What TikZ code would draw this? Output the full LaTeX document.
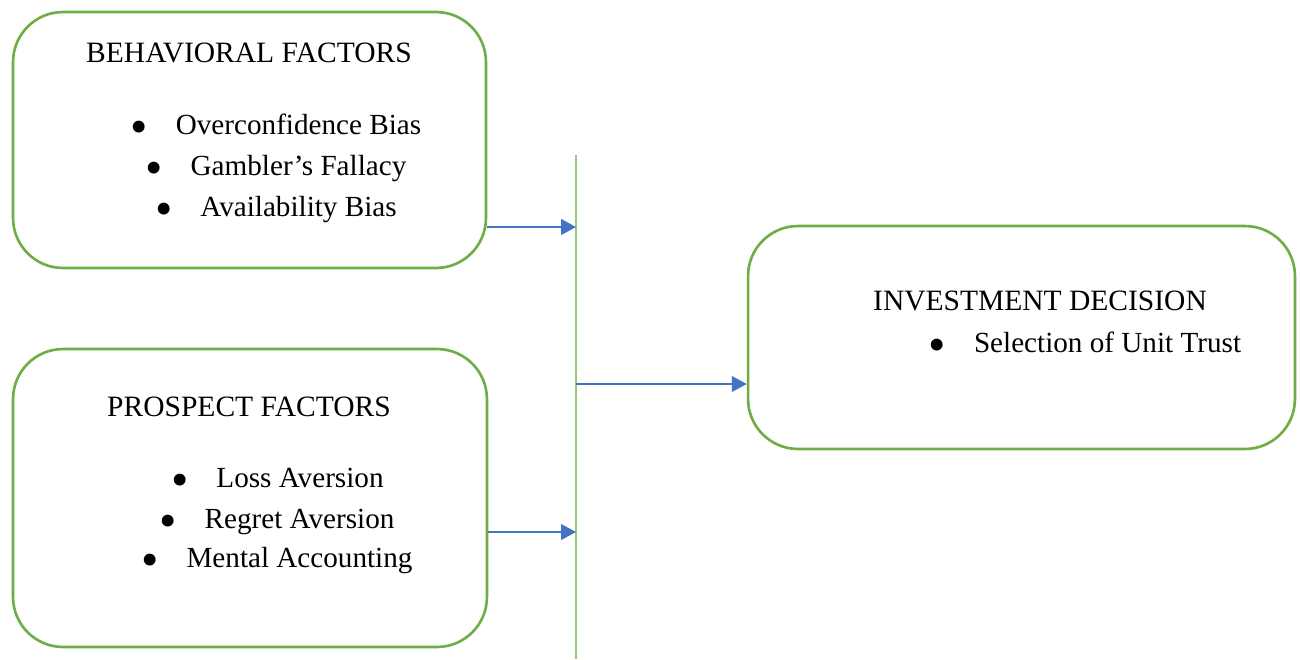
\documentclass[tikz,border=0pt]{standalone}
\usepackage{fontspec}
\setmainfont{Liberation Serif}
\usepackage{graphicx}
\usepackage{tikz}
\usetikzlibrary{arrows.meta,positioning}
\definecolor{boxgreen}{RGB}{112,173,71}
\definecolor{linegreen}{RGB}{150,200,118}
\definecolor{arrblue}{RGB}{68,114,196}

\tikzset{
  factorbox/.style={draw=boxgreen, line width=1.5pt, rounded corners=1cm, fill=white},
  txt/.style={font=\fontsize{16.6}{20}\selectfont, inner sep=0pt, anchor=base},
  title/.style={txt, font=\fontsize{16.8}{20}\selectfont},
  arr/.style={draw=arrblue, line width=0.8pt, -{Triangle[length=8.5pt,width=9pt]}}
}
\newcommand{\bitem}[1]{\raisebox{-0.7ex}{\scalebox{1.7}{\textbullet}}\hspace{0.95em}#1}

\begin{document}
\begin{tikzpicture}[x=0.02cm, y=-0.02cm]
    \useasboundingbox (0,0) rectangle (1300,659);

    % boxes
    \node[factorbox, minimum width=9.46cm, minimum height=5.12cm] (behav) at (249.5,140) {};
    \node[factorbox, minimum width=9.48cm, minimum height=5.96cm] (prosp) at (250,498) {};
    \node[factorbox, minimum width=10.94cm, minimum height=4.46cm] (invest) at (1021.5,337.5) {};

    % texts
    \node[title] (behavtitle) at (249,62) {BEHAVIORAL FACTORS};
    \node[txt] (b1) at (276,134) {\bitem{Overconfidence Bias}};
    \node[txt] (b2) at (276,175) {\bitem{Gambler’s Fallacy}};
    \node[txt] (b3) at (276,216) {\bitem{Availability Bias}};

    \node[title] (prosptitle) at (249,416) {PROSPECT FACTORS};
    \node[txt] (p1) at (277.5,487) {\bitem{Loss Aversion}};
    \node[txt] (p2) at (277,528) {\bitem{Regret Aversion}};
    \node[txt] (p3) at (277,567) {\bitem{Mental Accounting}};

    \node[title] (investtitle) at (1040,310) {INVESTMENT DECISION};
    \node[txt] (i1) at (1085,352) {\bitem{Selection of Unit Trust}};

    % joining line
    \coordinate (vtop) at (576,155);
    \coordinate (vbot) at (576,659);
    \coordinate (v1) at (576,227);
    \coordinate (v2) at (576,384);
    \coordinate (v3) at (576,532);
    \draw[linegreen, line width=1pt] (vtop) -- (vbot);

    \draw[arr] (behav.east |- v1) -- (v1);
    \draw[arr] (prosp.east |- v3) -- (v3);
    \draw[arr] (v2) -- (invest.west |- v2);
\end{tikzpicture}
\end{document}
